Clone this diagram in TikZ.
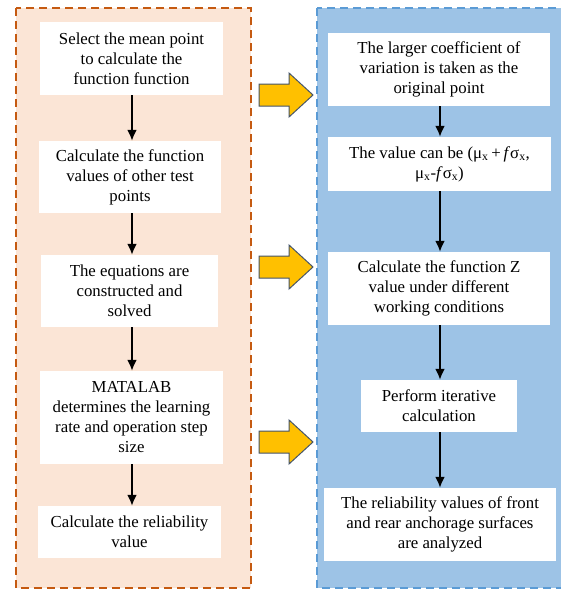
\documentclass[tikz,border=0pt]{standalone}
\usepackage{fontspec}
\setmainfont{Liberation Serif}
\usetikzlibrary{arrows.meta}
\definecolor{peachfill}{HTML}{FBE5D6}
\definecolor{peachline}{HTML}{C55A11}
\definecolor{bluefill}{HTML}{9DC3E6}
\definecolor{blueline}{HTML}{5B9BD5}
\definecolor{goldfill}{HTML}{FFC000}
\definecolor{goldline}{HTML}{44546A}
\begin{document}
\begin{tikzpicture}[x=1pt,y=-1pt,
  panel/.style={line width=1.8pt, dash pattern=on 8pt off 5pt},
  box/.style={fill=white, inner sep=0pt, align=center,
    font=\fontsize{16.8}{20}\selectfont},
  flow/.style={-{Latex[length=11pt,width=10pt]}, line width=2pt, black},
  bigarrow/.style={fill=goldfill, draw=goldline, line width=1pt, line join=miter}]
\useasboundingbox (0,0) rectangle (561,590);
% panels
\draw[panel, fill=peachfill, draw=peachline] (16,8) rectangle (251,588);
\draw[panel, fill=bluefill, draw=blueline] (317,8) rectangle (565,588);
% column axes for the connectors
\coordinate (ax) at (132,0);
\coordinate (bx) at (440,0);
% left column
\node[box, minimum width=183pt, minimum height=73pt] (l1) at (131.5,58.5)
  {Select the mean point\\to calculate the\\function function};
\node[box, minimum width=182pt, minimum height=72pt] (l2) at (130,177)
  {Calculate the function\\values of other test\\points};
\node[box, minimum width=177pt, minimum height=72pt] (l3) at (129.5,291)
  {The equations are\\constructed and\\solved};
\node[box, minimum width=183pt, minimum height=93pt] (l4) at (131.5,417.5)
  {MATALAB\\determines the learning\\rate and operation step\\size};
\node[box, minimum width=183pt, minimum height=52pt] (l5) at (129.5,532)
  {Calculate the reliability\\value};
% right column
\node[box, minimum width=222pt, minimum height=73pt] (r1) at (439,69.5)
  {The larger coefficient of\\variation is taken as the\\original point};
\node[box, minimum width=223pt, minimum height=54pt] (r2) at (439.5,164)
  {The value can be (μ\textsubscript{x}\,+\,\textit{f}σ\textsubscript{x},\\μ\textsubscript{x}-\textit{f}σ\textsubscript{x})};
\node[box, minimum width=222pt, minimum height=73pt] (r3) at (439,288.5)
  {Calculate the function Z\\value under different\\working conditions};
\node[box, minimum width=156pt, minimum height=52pt] (r4) at (439,406)
  {Perform iterative\\calculation};
\node[box, minimum width=232pt, minimum height=73pt] (r5) at (440,524.5)
  {The reliability values of front\\and rear anchorage surfaces\\are analyzed};
% flow arrows
\draw[flow] (l1.south -| ax) -- (l2.north -| ax);
\draw[flow] (l2.south -| ax) -- (l3.north -| ax);
\draw[flow] (l3.south -| ax) -- (l4.north -| ax);
\draw[flow] (l4.south -| ax) -- (l5.north -| ax);
\draw[flow] (r1.south -| bx) -- (r2.north -| bx);
\draw[flow] (r2.south -| bx) -- (r3.north -| bx);
\draw[flow] (r3.south -| bx) -- (r4.north -| bx);
\draw[flow] (r4.south -| bx) -- (r5.north -| bx);
% block arrows between panels
\foreach \c in {95,267,442}{
  \draw[bigarrow] (259,\c-11) -- (289,\c-11) -- (289,\c-22) -- (313,\c)
    -- (289,\c+22) -- (289,\c+11) -- (259,\c+11) -- cycle;
}
\end{tikzpicture}
\end{document}
